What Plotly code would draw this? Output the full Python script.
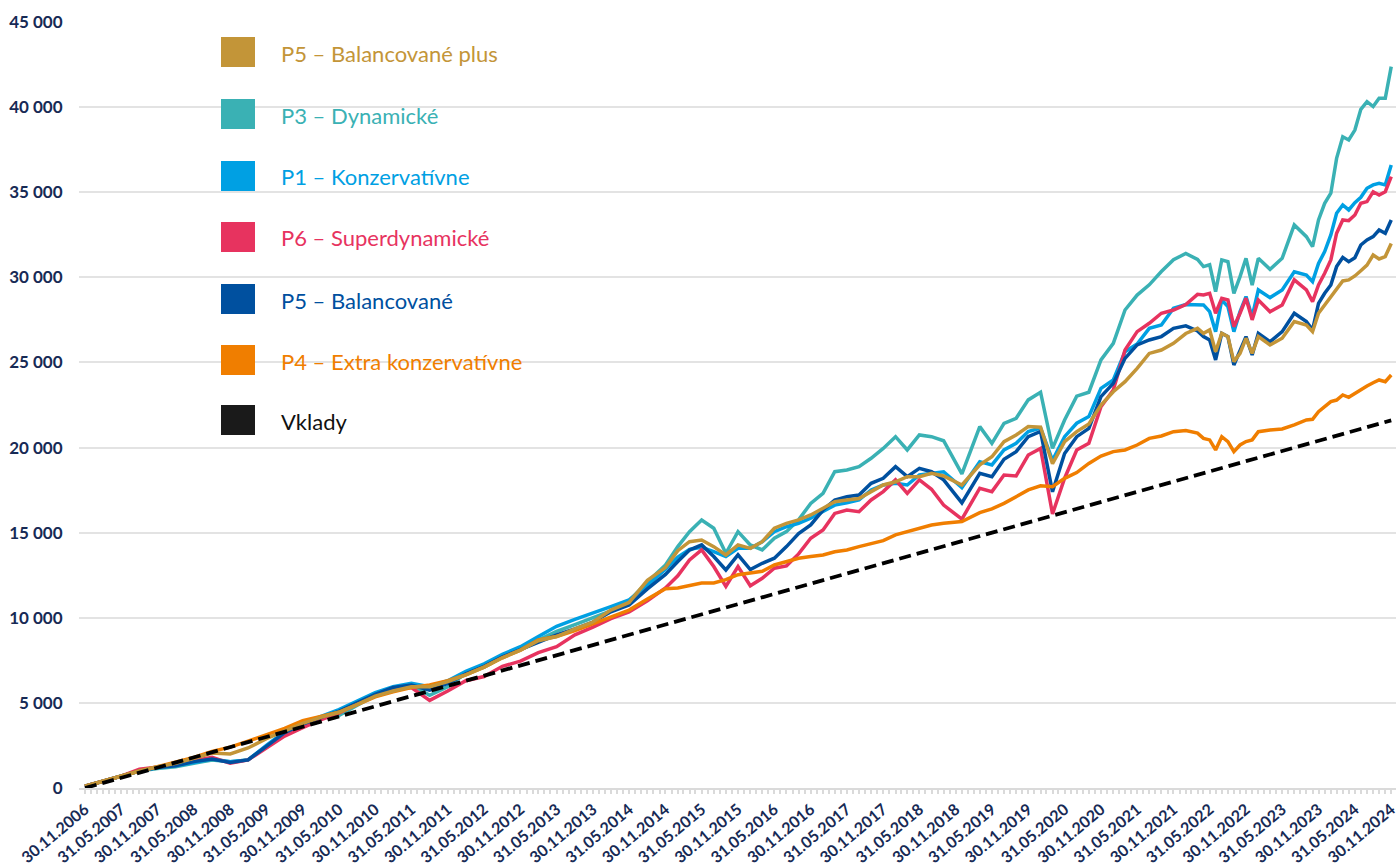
import pandas as pd
import plotly.graph_objects as go

# ---------------- data ----------------
months = [
    "2006-11", "2007-02", "2007-05", "2007-08", "2007-11", "2008-02", "2008-05", "2008-08", "2008-11",
    "2009-02", "2009-05", "2009-08", "2009-11", "2010-02", "2010-05", "2010-08", "2010-11", "2011-02",
    "2011-05", "2011-08", "2011-11", "2012-02", "2012-05", "2012-08", "2012-11", "2013-02", "2013-05",
    "2013-08", "2013-11", "2014-02", "2014-05", "2014-08", "2014-11",
    "2015-01", "2015-03", "2015-05", "2015-07", "2015-09", "2015-11", "2016-01", "2016-03", "2016-05",
    "2016-07", "2016-09", "2016-11", "2017-01", "2017-03", "2017-05", "2017-07", "2017-09", "2017-11",
    "2018-01", "2018-03", "2018-05", "2018-07", "2018-09", "2018-12", "2019-03", "2019-05", "2019-07",
    "2019-09", "2019-11", "2020-01", "2020-03", "2020-05", "2020-07", "2020-09", "2020-11", "2021-01",
    "2021-03", "2021-05", "2021-07", "2021-09",
    "2021-11", "2022-01", "2022-03", "2022-04", "2022-05", "2022-06", "2022-07", "2022-08", "2022-09",
    "2022-10", "2022-11", "2022-12", "2023-01", "2023-03", "2023-05", "2023-07", "2023-09", "2023-10",
    "2023-11", "2023-12", "2024-01", "2024-02", "2024-03", "2024-04", "2024-05", "2024-06", "2024-07",
    "2024-08", "2024-09", "2024-10", "2024-11",
]

p3_dynamicke = [
    100, 400, 700, 1000, 1150, 1250, 1450, 1650, 1550, 1650, 2450, 3250, 3750, 4150, 4250, 4850, 5450,
    5850, 6050, 5450, 5950, 6750, 7100, 7700, 8200, 8650, 9200, 9600, 10000, 10400, 11000, 12100, 13100,
    14180, 15060, 15740, 15260, 13790, 15060, 14280, 13990, 14670, 15060, 15750, 16720, 17310, 18580,
    18680, 18880, 19370, 19950, 20640, 19860, 20740, 20640, 20400, 18450, 21230, 20250, 21420, 21720,
    22800, 23250, 19950, 21620, 23020, 23250, 25150, 26120, 28080, 28960, 29560, 30340,
    31030, 31400, 31050, 30630, 30740, 29160, 31020, 30920, 29060, 30040, 31120, 29550, 31120, 30470,
    31120, 33080, 32390, 31800, 33370, 34350, 34940, 36990, 38260, 38070, 38650, 39870, 40320, 40030,
    40520, 40520, 42380,
]

p1_konzervativne = [
    100, 400, 700, 1000, 1200, 1300, 1500, 1700, 1550, 1650, 2500, 3300, 3800, 4200, 4600, 5100, 5600,
    5950, 6150, 5950, 6300, 6850, 7300, 7850, 8300, 8900, 9500, 9900, 10250, 10650, 11050, 11900, 12850,
    13560, 14020, 14140, 13890, 13600, 14080, 14080, 14470, 15060, 15350, 15550, 15850, 16230, 16620,
    16760, 16920, 17510, 17800, 17900, 17800, 18390, 18490, 18580, 17650, 19170, 18980, 19860, 20250,
    20940, 21150, 19250, 20640, 21430, 21820, 23480, 23970, 25630, 26080, 27000, 27200,
    28180, 28400, 28400, 28380, 27990, 26810, 28670, 28280, 26810, 27990, 28870, 27690, 29260, 28810,
    29260, 30330, 30140, 29750, 30820, 31510, 32490, 33760, 34250, 33960, 34390, 34700, 35230, 35430,
    35520, 35430, 36600,
]

p6_superdynamicke = [
    100, 400, 700, 1100, 1250, 1350, 1600, 1800, 1450, 1650, 2350, 3050, 3550, 4000, 4400, 4950, 5400,
    5800, 5900, 5150, 5700, 6300, 6550, 7150, 7450, 7950, 8300, 9000, 9450, 9950, 10350, 11000, 11750,
    12470, 13400, 13990, 13010, 11840, 13010, 11880, 12320, 12910, 13050, 13750, 14670, 15160, 16130,
    16330, 16230, 16920, 17410, 18100, 17310, 18100, 17550, 16620, 15800, 17610, 17410, 18390, 18330,
    19560, 19950, 16100, 18200, 19860, 20250, 22400, 23380, 25730, 26810, 27300, 27890,
    28080, 28400, 29000, 28960, 29060, 27890, 28770, 28670, 27100, 27890, 28770, 27500, 28670, 27980,
    28380, 29850, 29260, 28570, 29550, 30240, 31020, 32590, 33370, 33330, 33660, 34350, 34450, 35030,
    34840, 35030, 35920,
]

p5_balancovane = [
    100, 400, 700, 1000, 1200, 1300, 1550, 1700, 1500, 1650, 2450, 3250, 3750, 4150, 4500, 5000, 5500,
    5900, 6050, 5750, 6150, 6700, 7150, 7700, 8150, 8600, 9000, 9350, 9750, 10350, 10750, 11700, 12550,
    13310, 13980, 14280, 13600, 12810, 13700, 12830, 13200, 13500, 14180, 14950, 15460, 16330, 16920,
    17110, 17210, 17900, 18190, 18880, 18290, 18780, 18580, 18100, 16750, 18490, 18290, 19310, 19760,
    20640, 20950, 17400, 19650, 20640, 21130, 22990, 23770, 25240, 26030, 26320, 26520,
    27000, 27150, 26850, 26520, 26320, 25150, 26710, 26520, 24850, 25730, 26520, 25440, 26710, 26220,
    26810, 27890, 27400, 26910, 28470, 29060, 29550, 30630, 31170, 30920, 31150, 31900, 32200, 32390,
    32780, 32590, 33370,
]

p4_extra_konzervativne = [
    100, 400, 700, 1000, 1250, 1500, 1800, 2150, 2400, 2750, 3100, 3500, 3950, 4200, 4450, 4900, 5350,
    5650, 5900, 6050, 6300, 6650, 7100, 7650, 8100, 8700, 8900, 9250, 9650, 10000, 10450, 11100, 11700,
    11750, 11900, 12040, 12040, 12240, 12530, 12630, 12730, 13100, 13300, 13500, 13600, 13690, 13880,
    13980, 14180, 14380, 14530, 14870, 15060, 15260, 15450, 15550, 15650, 16180, 16400, 16720, 17110,
    17510, 17750, 17700, 18190, 18530, 19070, 19500, 19760, 19860, 20150, 20540, 20680,
    20930, 21000, 20850, 20540, 20450, 19860, 20640, 20350, 19760, 20150, 20350, 20450, 20930, 21030,
    21090, 21330, 21620, 21660, 22110, 22400, 22700, 22790, 23090, 22950, 23190, 23420, 23620, 23810,
    23970, 23870, 24260,
]

p5_balancovane_plus = [
    100, 400, 700, 1000, 1250, 1450, 1750, 2050, 2000, 2350, 2900, 3350, 3800, 4150, 4450, 4900, 5400,
    5700, 5950, 5950, 6250, 6650, 7100, 7650, 8100, 8650, 8900, 9350, 9750, 10450, 10900, 12200, 12950,
    13940, 14470, 14570, 14180, 13690, 14280, 14080, 14470, 15260, 15550, 15750, 16040, 16430, 16820,
    16920, 17010, 17410, 17800, 17990, 18290, 18290, 18490, 18330, 17800, 18980, 19460, 20350, 20740,
    21230, 21200, 19050, 20350, 20940, 21390, 22500, 23280, 23870, 24650, 25530, 25730,
    26120, 26700, 27000, 26710, 26910, 25630, 26710, 26520, 25050, 25530, 26420, 25530, 26520, 26030,
    26420, 27400, 27200, 26810, 27890, 28380, 28870, 29360, 29790, 29850, 30080, 30390, 30720, 31310,
    31080, 31220, 31990,
]

tick_labels = [
    "30.11.2006", "31.05.2007", "30.11.2007", "31.05.2008", "30.11.2008", "31.05.2009", "30.11.2009",
    "31.05.2010", "30.11.2010", "31.05.2011", "30.11.2011", "31.05.2012", "30.11.2012", "31.05.2013",
    "30.11.2013", "31.05.2014", "30.11.2014", "31.05.2015", "30.11.2015", "31.05.2016", "30.11.2016",
    "31.05.2017", "30.11.2017", "31.05.2018", "30.11.2018", "31.05.2019", "30.11.2019", "31.05.2020",
    "30.11.2020", "31.05.2021", "30.11.2021", "31.05.2022", "30.11.2022", "31.05.2023", "30.11.2023",
    "31.05.2024", "30.11.2024",
]

# deposits (Vklady) at each semi-annual tick date
vklady = [
    0, 600, 1200, 1800, 2400, 3000, 3600, 4200, 4800, 5400, 6000, 6600, 7200, 7800, 8400, 9000, 9600,
    10200, 10800, 11400, 12000, 12600, 13200, 13800, 14400, 15000, 15600, 16200, 16800, 17400, 18000,
    18600, 19200, 19800, 20400, 21000, 21600,
]

y_ticks = [0, 5000, 10000, 15000, 20000, 25000, 30000, 35000, 40000, 45000]
y_tick_text = ["0", "5 000", "10 000", "15 000", "20 000", "25 000", "30 000", "35 000", "40 000", "45 000"]

# ---------------- build ----------------
dates = pd.to_datetime(months, format="%Y-%m") + pd.offsets.MonthEnd(0)
tick_dates = pd.to_datetime(tick_labels, format="%d.%m.%Y")
try:
    minor_dates = pd.date_range("2006-11-30", "2024-11-30", freq="ME")
except Exception:
    minor_dates = pd.date_range("2006-11-30", "2024-11-30", freq="M")

C_GOLD = "#C39538"
C_TEAL = "#3AB1B4"
C_LBLUE = "#00A0E3"
C_PINK = "#E7335F"
C_DBLUE = "#00509F"
C_ORANGE = "#F07E00"
C_BLACK = "#1A1A1A"
C_TEXT = "#172A55"

fig = go.Figure()

draw_order = [
    ("P3 – Dynamické", p3_dynamicke, C_TEAL),
    ("P1 – Konzervatívne", p1_konzervativne, C_LBLUE),
    ("P6 – Superdynamické", p6_superdynamicke, C_PINK),
    ("P5 – Balancované", p5_balancovane, C_DBLUE),
    ("P4 – Extra konzervatívne", p4_extra_konzervativne, C_ORANGE),
    ("P5 – Balancované plus", p5_balancovane_plus, C_GOLD),
]
for name, vals, col in draw_order:
    fig.add_trace(go.Scatter(x=dates, y=vals, mode="lines", name=name,
                             line=dict(color=col, width=3.5), showlegend=False))

fig.add_trace(go.Scatter(x=tick_dates, y=vklady, mode="lines", name="Vklady",
                         line=dict(color="#000000", width=3.8, dash="12px,6px"), showlegend=False))

# ---------------- legend (manual, squares + text) ----------------
L, R, T, B = 79, 0, 22, 80
W, H = 1396, 868
pw, ph = W - L - R, H - T - B

legend_items = [
    ("P5 – Balancované plus", C_GOLD, 52),
    ("P3 – Dynamické", C_TEAL, 114),
    ("P1 – Konzervatívne", C_LBLUE, 176),
    ("P6 – Superdynamické", C_PINK, 237),
    ("P5 – Balancované", C_DBLUE, 299),
    ("P4 – Extra konzervatívne", C_ORANGE, 360),
    ("Vklady", C_BLACK, 420),
]

def px_x(x):
    return (x - L) / pw

def px_y(y):
    return (H - B - y) / ph

for text, col, yc in legend_items:
    fig.add_shape(type="rect", xref="paper", yref="paper",
                  x0=px_x(221), x1=px_x(255), y0=px_y(yc + 15), y1=px_y(yc - 15),
                  fillcolor=col, line=dict(width=0), layer="above")
    fig.add_annotation(xref="paper", yref="paper", x=px_x(279), y=px_y(yc + 1),
                       text=text, showarrow=False, xanchor="left", yanchor="middle",
                       font=dict(family="Lato", size=22, color=col if col != C_BLACK else "#111111"))

fig.update_layout(
    width=W, height=H,
    margin=dict(l=L, r=R, t=T, b=B, autoexpand=False),
    paper_bgcolor="white", plot_bgcolor="white",
    font=dict(family="Lato", color=C_TEXT),
    showlegend=False,
)

fig.update_xaxes(
    type="date",
    range=["2006-10-31", "2024-12-24"],
    tickmode="array", tickvals=tick_dates, ticktext=tick_labels,
    tickangle=-40, ticklabeloverflow="allow",
    tickfont=dict(family="Lato", size=16, color=C_TEXT, weight="bold"),
    showgrid=False, zeroline=False,
    showline=True, linecolor="#DADADA", linewidth=2,
    ticks="outside", ticklen=4, tickcolor="#DADADA", tickwidth=2,
    minor=dict(tickmode="array", tickvals=minor_dates, ticks="outside", ticklen=4,
               tickcolor="#DADADA", tickwidth=2, showgrid=False),
)

fig.update_yaxes(
    range=[0, 45000],
    tickmode="array", tickvals=y_ticks, ticktext=y_tick_text,
    tickfont=dict(family="Lato", size=17, color=C_TEXT, weight="bold"),
    showgrid=True, gridcolor="#E3E3E3", gridwidth=2,
    zeroline=False, showline=False,
    ticks="outside", ticklen=12, tickcolor="rgba(0,0,0,0)",
)

fig.write_html(
    "out.html",
    config={"displayModeBar": False},
    post_script="document.body.style.margin='0';document.body.style.overflow='hidden';",
)
